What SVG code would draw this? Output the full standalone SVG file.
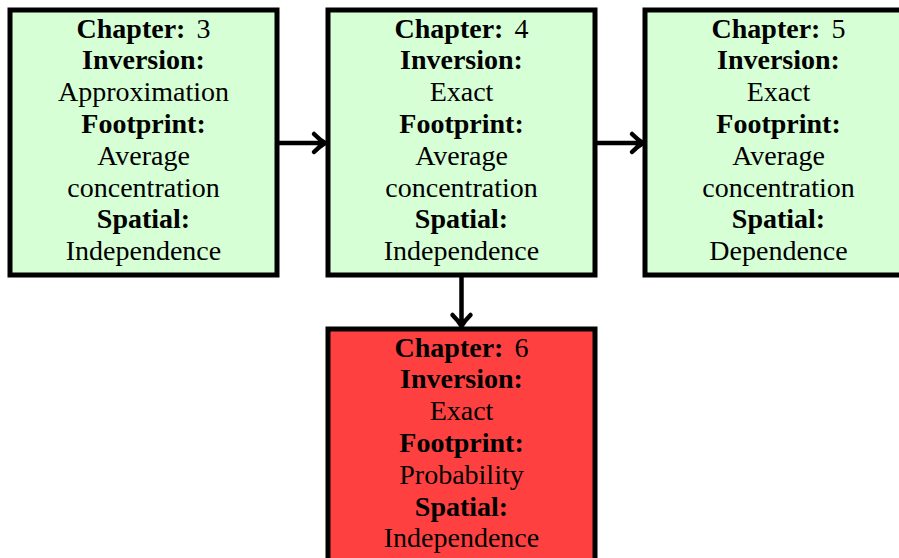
<svg xmlns="http://www.w3.org/2000/svg" width="899" height="558" viewBox="0 0 899 558">
<style>
.box{stroke:#000;stroke-width:5}
.g{fill:#d6ffd6}
.r{fill:#ff4040}
text{font-family:"Liberation Serif","DejaVu Serif",serif;font-size:28px;fill:#000;text-anchor:middle}
.b{font-weight:bold}
.c{fill:none;stroke:#000;stroke-width:4.5;stroke-linecap:round;stroke-linejoin:round}
</style>
<rect width="899" height="558" fill="#fff"/>
<g id="connectors">
<path class="c" d="M279,143 H323 M314,134 Q320,140 325,143 Q320,146 314,152"/>
<path class="c" d="M597,143 H641 M632,134 Q638,140 643,143 Q638,146 632,152"/>
<path class="c" d="M461.5,277 V324 M452.5,315 Q458.5,321 461.5,326 Q464.5,321 470.5,315"/>
</g>
<g id="ch3">
<rect class="box g" x="10" y="10" width="267" height="265"/>
<text x="143.5" y="37.5"><tspan class="b">Chapter: </tspan><tspan dx="4">3</tspan></text>
<text x="143.5" y="69.3" class="b">Inversion:</text>
<text x="143.5" y="101.1">Approximation</text>
<text x="143.5" y="132.9" class="b">Footprint:</text>
<text x="143.5" y="164.7">Average</text>
<text x="143.5" y="196.5">concentration</text>
<text x="143.5" y="228.3" class="b">Spatial:</text>
<text x="143.5" y="260.1">Independence</text>
</g>
<g id="ch4">
<rect class="box g" x="328" y="10" width="267" height="265"/>
<text x="461.5" y="37.5"><tspan class="b">Chapter: </tspan><tspan dx="4">4</tspan></text>
<text x="461.5" y="69.3" class="b">Inversion:</text>
<text x="461.5" y="101.1">Exact</text>
<text x="461.5" y="132.9" class="b">Footprint:</text>
<text x="461.5" y="164.7">Average</text>
<text x="461.5" y="196.5">concentration</text>
<text x="461.5" y="228.3" class="b">Spatial:</text>
<text x="461.5" y="260.1">Independence</text>
</g>
<g id="ch5">
<rect class="box g" x="645" y="10" width="267" height="265"/>
<text x="778.5" y="37.5"><tspan class="b">Chapter: </tspan><tspan dx="4">5</tspan></text>
<text x="778.5" y="69.3" class="b">Inversion:</text>
<text x="778.5" y="101.1">Exact</text>
<text x="778.5" y="132.9" class="b">Footprint:</text>
<text x="778.5" y="164.7">Average</text>
<text x="778.5" y="196.5">concentration</text>
<text x="778.5" y="228.3" class="b">Spatial:</text>
<text x="778.5" y="260.1">Dependence</text>
</g>
<g id="ch6">
<rect class="box r" x="328" y="329" width="267" height="240"/>
<text x="461.5" y="356.5"><tspan class="b">Chapter: </tspan><tspan dx="4">6</tspan></text>
<text x="461.5" y="388.3" class="b">Inversion:</text>
<text x="461.5" y="420.1">Exact</text>
<text x="461.5" y="451.9" class="b">Footprint:</text>
<text x="461.5" y="483.7">Probability</text>
<text x="461.5" y="515.5" class="b">Spatial:</text>
<text x="461.5" y="547.3">Independence</text>
</g>
</svg>
